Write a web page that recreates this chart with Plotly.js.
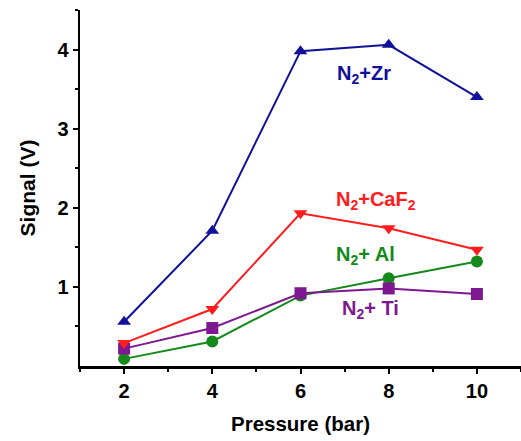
<!DOCTYPE html>
<html>
<head>
<meta charset="utf-8">
<script src="https://cdn.plot.ly/plotly-3.0.1.min.js"></script>
<style>html,body{margin:0;padding:0;background:#fff;}#chart{width:521px;height:441px;}</style>
</head>
<body>
<div id="chart"></div>
<script>
const pressure = [2, 4, 6, 8, 10];
const zr   = [0.56, 1.71, 3.98, 4.06, 3.40];
const caf2 = [0.29, 0.72, 1.93, 1.74, 1.47];
const ti   = [0.22, 0.48, 0.92, 0.98, 0.91];
const al   = [0.09, 0.31, 0.89, 1.11, 1.32];
const xTicks = [2, 4, 6, 8, 10];
const yTicks = [1, 2, 3, 4];
const labels = ["N<sub>2</sub>+Zr", "N<sub>2</sub>+CaF<sub>2</sub>", "N<sub>2</sub>+ Al", "N<sub>2</sub>+ Ti"];

const cBlue = "#10109c", cRed = "#ff1c1c", cGreen = "#15891a", cPurple = "#7e1890";
function tr(y, color, sym) {
  return {x: pressure, y: y, mode: "lines+markers", type: "scatter",
    line: {color: color, width: 2},
    marker: {color: color, symbol: sym, size: 12}, showlegend: false};
}
const data = [
  tr(al, cGreen, "circle"),
  tr(ti, cPurple, "square"),
  tr(caf2, cRed, "triangle-down"),
  tr(zr, cBlue, "triangle-up")
];
const fam = "Liberation Sans, Arial, sans-serif";
const layout = {
  width: 521, height: 441,
  margin: {l: 80, r: 0, t: 10, b: 75},
  paper_bgcolor: "#fff", plot_bgcolor: "#fff",
  font: {family: fam, size: 16, color: "#000"},
  xaxis: {range: [1, 11], tickvals: xTicks, ticktext: xTicks.map(v => "<b>" + v + "</b>"),
    showgrid: false, zeroline: false, showline: true, linecolor: "#000", linewidth: 2.5,
    ticks: "outside", ticklen: 5, tickwidth: 2, tickcolor: "#000",
    minor: {tickvals: [1, 3, 5, 7, 9, 11], ticks: "outside", ticklen: 3, tickwidth: 2, tickcolor: "#000"},
    tickfont: {family: fam, size: 20, color: "#000"},
    title: {text: "<b>Pressure (bar)</b>", font: {family: fam, size: 20.5, color: "#000"}, standoff: 16}},
  yaxis: {range: [0, 4.5], tickvals: yTicks, ticktext: yTicks.map(v => "<b>" + v + "</b>"),
    showgrid: false, zeroline: false, showline: true, linecolor: "#000", linewidth: 2.5,
    ticks: "outside", ticklen: 5, tickwidth: 2, tickcolor: "#000",
    minor: {tickvals: [0.5, 1.5, 2.5, 3.5, 4.5], ticks: "outside", ticklen: 3, tickwidth: 2, tickcolor: "#000"},
    tickfont: {family: fam, size: 20, color: "#000"},
    title: {text: "<b>Signal (V)</b>", font: {family: fam, size: 21, color: "#000"}, standoff: 16}},
  annotations: [
    {x: 7.44, y: 3.68, text: "<b>" + labels[0] + "</b>", font: {family: fam, size: 20, color: cBlue}},
    {x: 7.72, y: 2.09, text: "<b>" + labels[1] + "</b>", font: {family: fam, size: 20, color: cRed}},
    {x: 7.47, y: 1.40, text: "<b>" + labels[2] + "</b>", font: {family: fam, size: 20, color: cGreen}},
    {x: 7.58, y: 0.71, text: "<b>" + labels[3] + "</b>", font: {family: fam, size: 20, color: cPurple}}
  ].map(a => Object.assign({xref: "x", yref: "y", showarrow: false}, a))
};
Plotly.newPlot("chart", data, layout, {displayModeBar: false, staticPlot: true});
</script>
</body>
</html>
